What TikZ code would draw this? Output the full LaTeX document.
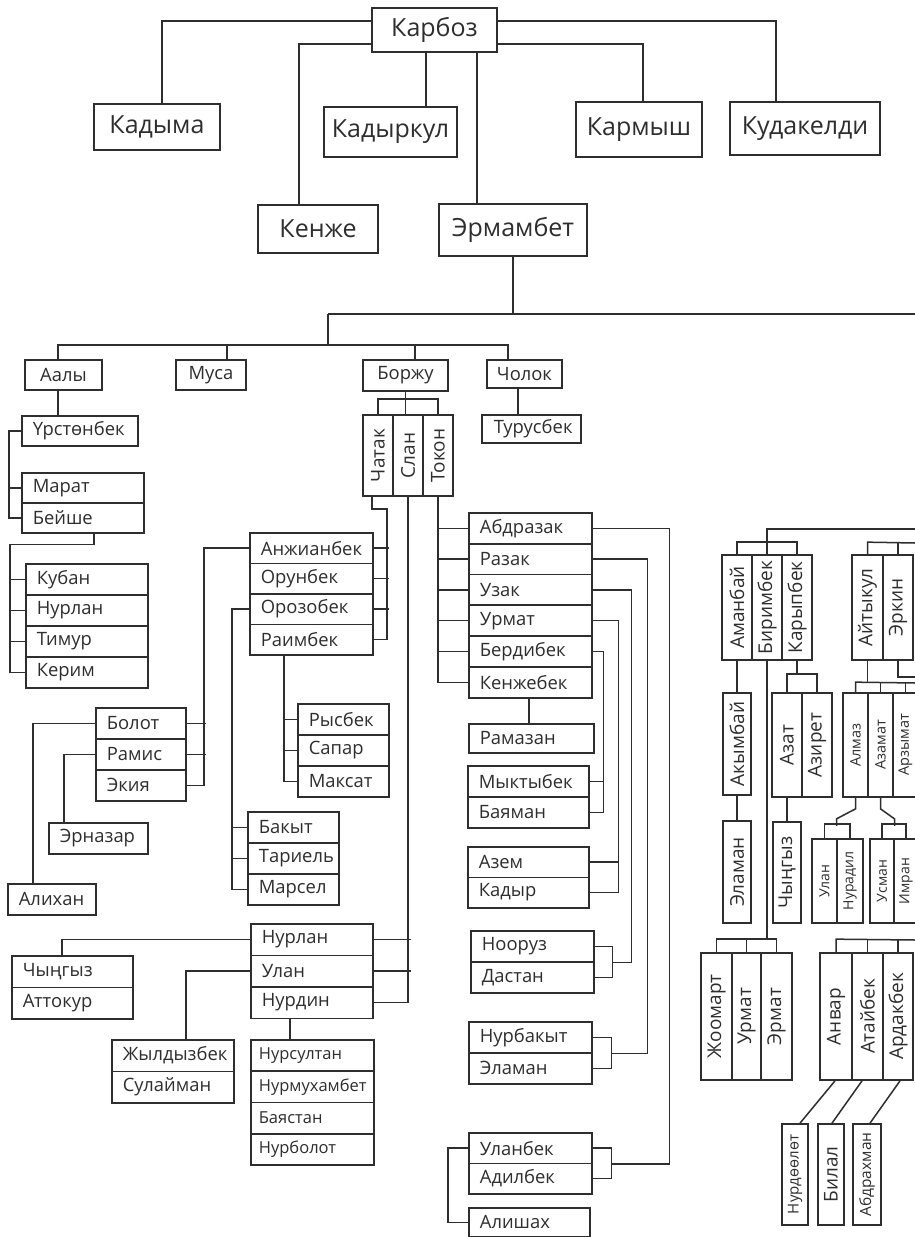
\documentclass[tikz,border=0pt]{standalone}
\usepackage{fontspec}
\setmainfont{Open Sans}
\usetikzlibrary{calc}
\colorlet{ink}{black!82}
\tikzset{
  box/.style={draw=ink, line width=1.7pt, text=ink, inner sep=0pt},
  big/.style={box, font=\fontsize{25}{30}\selectfont},
  tag/.style={box, font=\fontsize{18.4}{22}\selectfont},
  item/.style={box, anchor=north west, inner xsep=11pt, text width=#1, align=left, font=\fontsize{18.4}{22}\selectfont},
  vx/.style={box, rotate=90, font=\fontsize{19}{22}\selectfont},
  wire/.style={draw=ink, line width=1.5pt},
}

\begin{document}
\begin{tikzpicture}[x=1pt, y=-1pt]
\fill[white] (0,0) rectangle (915,1237);
\useasboundingbox (0,0) rectangle (915,1237);

% Карбоз and sons
\node[big, minimum width=125pt, minimum height=44pt] (karboz) at (434.5,30) {Карбоз};
\node[big, minimum width=126pt, minimum height=46pt] (kadyma) at (157,127) {Кадыма};
\node[big, minimum width=133pt, minimum height=50pt] (kadyrkul) at (390.5,132) {Кадыркул};
\node[big, minimum width=126pt, minimum height=55pt] (karmysh) at (639,129.5) {Кармыш};
\node[big, minimum width=150pt, minimum height=53pt] (kudakeldi) at (805,128.5) {Кудакелди};
\node[big, minimum width=120pt, minimum height=48pt] (kenzhe) at (318,229) {Кенже};
\node[big, minimum width=148pt, minimum height=52pt] (ermambet) at (513,230) {Эрмамбет};
\draw[wire] ([yshift=9pt]karboz.west) -| ([xshift=5pt]kadyma.north);
\draw[wire] ([yshift=9pt]karboz.east) -| ([xshift=-29pt]kudakeldi.north);
\draw[wire] ([yshift=-14pt]karboz.west) -| ([xshift=-19pt]kenzhe.north);
\draw[wire] ([yshift=-14pt]karboz.east) -| ([xshift=4pt]karmysh.north);
\coordinate (kk) at ([xshift=35.5pt]kadyrkul.north);
\draw[wire] (kk) -- (kk |- karboz.south);
\coordinate (ke) at ([xshift=-36pt]ermambet.north);
\draw[wire] (ke) -- (ke |- karboz.south);

\coordinate (e1) at (328,314);
\coordinate (e2) at (915,314);
\coordinate (k1) at (328,345);
\draw[wire] (ermambet.south) -- (ermambet.south |- e1);
\draw[wire] (e1) -- (e2);
\draw[wire] (e1) -- (k1);

% Эрмамбет's sons
\node[tag, minimum width=77pt, minimum height=30pt] (aaly) at (63.5,375) {Аалы};
\node[tag, minimum width=70pt, minimum height=30pt] (musa) at (211,375) {Муса};
\node[tag, minimum width=85pt, minimum height=31pt] (borzhu) at (405.5,375.5) {Боржу};
\node[tag, minimum width=75pt, minimum height=28pt] (cholok) at (524.5,374) {Чолок};
\coordinate (a1) at ([xshift=-5.5pt]aaly.north);
\coordinate (c1) at ([xshift=-16.5pt]cholok.north);
\draw[wire] (a1) |- (k1) -| (c1);
\coordinate (m1) at ([xshift=16pt]musa.north);
\draw[wire] (m1) -- (m1 |- k1);
\coordinate (b1) at ([xshift=9.5pt]borzhu.north);
\draw[wire] (b1) -- (b1 |- k1);

\node[item=75pt, inner xsep=12pt, minimum height=28pt] (turus) at (481,414) {Турусбек};
\coordinate (c2) at ([xshift=-6.5pt]cholok.south);
\draw[wire] (c2) -- (c2 |- turus.north);

\foreach \n/\t/\x in {chatak/Чатак/378, slan/Слан/408, tokon/Токон/438}
  \node[vx, minimum width=81pt, minimum height=30pt] (\n) at (\x,455.5) {\t};
\draw[wire] (borzhu.south) -- (borzhu.south |- slan.east);
\draw[wire] (chatak.east) -- ++(0,-15) -| (tokon.east);

% Аалы
\node[item=94pt, minimum height=30pt] (urst) at (21,415) {Үрстөнбек};
\coordinate (a2) at ([xshift=-5.5pt]aaly.south);
\draw[wire] (a2) -- (a2 |- urst.north);
\foreach \n/\t [count=\i from 0] in {marat/Марат, beyshe/Бейше}
  \node[item=100pt, minimum height=30pt] (\n) at (21,472+30*\i) {\t};
\draw[wire] (urst.west) -- ++(-12,0) |- (beyshe.west);
\draw[wire] (marat.west) -- ++(-12,0);
\foreach \n/\t [count=\i from 0] in {kuban/Кубан, nurlanA/Нурлан, timur/Тимур, kerim/Керим}
  \node[item=100pt, minimum height=31pt] (\n) at (25,563+31*\i) {\t};
\draw[wire] ([xshift=11pt]beyshe.south) -- ++(0,11) -- ++(-84,0) |- (kerim.west);
\foreach \n in {kuban,nurlanA,timur} \draw[wire] (\n.west) -- ++(-16,0);

% Чатак
\foreach \n/\t [count=\i from 0] in {anzh/Анжианбек, orun/Орунбек, oroz/Орозобек, raim/Раимбек}
  \node[item=101pt, minimum height=30.5pt] (\n) at (249,532+30.5*\i) {\t};
\draw[wire] ([xshift=-6pt]chatak.west) -- ++(0,12) -- ++(15,0) |- (raim.east);
\foreach \n in {anzh,orun,oroz} \draw[wire] (\n.east) -- ++(15,0);

\foreach \n/\t [count=\i from 0] in {bolot/Болот, ramis/Рамис, ekiya/Экия}
  \node[item=68pt, minimum height=31pt] (\n) at (95,707+31*\i) {\t};
\draw[wire] (anzh.west) -- ++(-45,0) |- (ekiya.east);
\foreach \n in {bolot,ramis} \draw[wire] (\n.east) -- ++(19,0);
\node[item=66pt, minimum height=31pt] (alikhan) at (7,883) {Алихан};
\node[item=77pt, minimum height=31pt] (ernazar) at (48,822) {Эрназар};
\draw[wire] (bolot.west) -| ([xshift=-19pt]alikhan.north);
\draw[wire] (ramis.west) -| ([xshift=-34.5pt]ernazar.north);

\foreach \n/\t [count=\i from 0] in {bakyt/Бакыт, tariel/Тариель, marsel/Марсел}
  \node[item=69pt, minimum height=31pt] (\n) at (247,811+31*\i) {\t};
\draw[wire] (oroz.west) -- ++(-17,0) |- (marsel.west);
\foreach \n in {bakyt,tariel} \draw[wire] (\n.west) -- ++(-15,0);

\foreach \n/\t [count=\i from 0] in {rysbek/Рысбек, sapar/Сапар, maksat/Максат}
  \node[item=69pt, minimum height=31pt] (\n) at (297,703+31*\i) {\t};
\draw[wire] ([xshift=-27.5pt]raim.south) |- (maksat.west);
\foreach \n in {rysbek,sapar} \draw[wire] (\n.west) -- ++(-14,0);

% Слан
\foreach \n/\t [count=\i from 0] in {nurlanB/Нурлан, ulanA/Улан, nurdin/Нурдин}
  \node[item=100pt, minimum height=31.5pt] (\n) at (250,923+31.5*\i) {\t};
\draw[wire] (slan.west) |- (nurdin.east);
\foreach \n in {nurlanB,ulanA} \draw[wire] (\n.east) -- ++(37,0);
\foreach \n/\t [count=\i from 0] in {chyngyzA/Чыңгыз, attokur/Аттокур}
  \node[item=99pt, minimum height=31.5pt] (\n) at (11,955+31.5*\i) {\t};
\draw[wire] (nurlanB.west) -| ([xshift=-10.5pt]chyngyzA.north);
\foreach \n/\t [count=\i from 0] in {zhyldyz/Жылдызбек, sulayman/Сулайман}
  \node[item=100pt, minimum height=31.5pt] (\n) at (111,1039+31.5*\i) {\t};
\draw[wire] (ulanA.west) -| ([xshift=13pt]zhyldyz.north);
\foreach \n/\t [count=\i from 0] in {nursultan/Нурсултан, nurmukh/Нурмухамбет, bayastan/Баястан, nurbolot/Нурболот}
  \node[item=107pt, inner xsep=8pt, minimum height=31.3pt, font=\fontsize{16.5}{20}\selectfont] (\n) at (250,1039+31.3*\i) {\t};
\coordinate (n1) at ([xshift=-22pt]nurdin.south);
\draw[wire] (n1) -- (n1 |- nursultan.north);

% Токон
\foreach \n/\t [count=\i from 0] in {abdr/Абдразак, razak/Разак, uzak/Узак, urmatA/Урмат, berdi/Бердибек, kenzheb/Кенжебек}
  \node[item=101pt, minimum height=30.8pt] (\n) at (468,512+30.8*\i) {\t};
\draw[wire] (tokon.west) |- (kenzheb.west);
\foreach \n in {abdr,razak,uzak,urmatA,berdi} \draw[wire] (\n.west) -- ++(-30,0);

\node[item=103pt, minimum height=29pt] (ramazan) at (468,723) {Рамазан};
\coordinate (k2) at ([xshift=-1.5pt]kenzheb.south);
\draw[wire] (k2) -- (k2 |- ramazan.north);

\foreach \n/\t [count=\i from 0] in {myktybek/Мыктыбек, bayaman/Баяман}
  \node[item=99pt, minimum height=31pt] (\n) at (467,765+31*\i) {\t};
\draw[wire] (berdi.east) -- ++(11,0) |- (bayaman.east);
\draw[wire] (myktybek.east) -- ++(14,0);

\foreach \n/\t [count=\i from 0] in {azem/Азем, kadyr/Кадыр}
  \node[item=99pt, minimum height=30.5pt] (\n) at (467,846+30.5*\i) {\t};
\draw[wire] (urmatA.east) -- ++(26,0) |- (kadyr.east);
\draw[wire] (azem.east) -- ++(29,0);

\foreach \n/\t [count=\i from 0] in {nooruz/Нооруз, dastan/Дастан}
  \node[item=101pt, minimum height=31pt] (\n) at (470,930+31*\i) {\t};
\draw[wire] (nooruz.east) -- ++(18,0) |- (dastan.east);
\draw[wire] (uzak.east) -- ++(39,0) |- ([xshift=18pt]nooruz.south east);

\foreach \n/\t [count=\i from 0] in {nurbakyt/Нурбакыт, elamanA/Эламан}
  \node[item=101pt, minimum height=31pt] (\n) at (468,1021+31*\i) {\t};
\draw[wire] (nurbakyt.east) -- ++(19,0) |- (elamanA.east);
\draw[wire] (razak.east) -- ++(55,0) |- ([xshift=19pt]nurbakyt.south east);

\foreach \n/\t [count=\i from 0] in {ulanbek/Уланбек, adilbek/Адилбек}
  \node[item=101pt, minimum height=30.5pt] (\n) at (468,1132+30.5*\i) {\t};
\draw[wire] (ulanbek.east) -- ++(19,0) |- (adilbek.east);
\draw[wire] (abdr.east) -- ++(77,0) |- ([xshift=19pt]ulanbek.south east);
\node[item=99pt, minimum height=29pt] (alishakh) at (468,1207) {Алишах};
\draw[wire] (ulanbek.west) -- ++(-20,0) |- (alishakh.west);

% right part, cut by the page edge
\coordinate (r1) at (915,529);
\foreach \n/\t/\x in {amanbay/Аманбай/737, birimbek/Биримбек/767, karypbek/Карыпбек/797}
  \node[vx, minimum width=105pt, minimum height=30pt] (\n) at (\x,607.5) {\t};
\draw[wire] (r1) -| (birimbek.east);
\draw[wire] (amanbay.east) -- ++(0,-12) -| (karypbek.east);

\node[vx, minimum width=105pt, minimum height=31pt] (aytykul) at (867.5,607.5) {Айтыкул};
\node[vx, minimum width=105pt, minimum height=30pt] (erkin) at (898,607.5) {Эркин};
\coordinate (r2) at (915,543);
\draw[wire] (aytykul.east) -- ++(0,-12) -- (r2);
\draw[wire] (erkin.east) -- ++(0,-12);

\node[vx, minimum width=102pt, minimum height=28pt] (akymbay) at (737,744) {Акымбай};
\node[vx, minimum width=102pt, minimum height=28pt] (elamanB) at (737,872) {Эламан};
\draw[wire] (amanbay.west) -- (akymbay.east);
\draw[wire] (akymbay.west) -- (elamanB.east);

\foreach \n/\t/\x/\w in {zhoomart/Жоомарт/716.5/31pt, urmatB/Урмат/746.5/29pt, ermat/Эрмат/776.5/31pt}
  \node[vx, minimum width=127pt, minimum height=\w] (\n) at (\x,1016.5) {\t};
\draw[wire] (zhoomart.east) -- ++(0,-13) -| (ermat.east);
\draw[wire] (urmatB.east) -- ++(0,-13);
\coordinate (zb) at ([yshift=13pt]urmatB.east);
\draw[wire] (birimbek.west) -- (birimbek.west |- zb);

\foreach \n/\t/\x in {azat/Азат/787, aziret/Азирет/817}
  \node[vx, minimum width=104pt, minimum height=30pt] (\n) at (\x,745) {\t};
\draw[wire] (azat.east) -- ++(0,-18) -| (aziret.east);
\coordinate (zc) at ([yshift=18pt]azat.east);
\draw[wire] (karypbek.west) -- (karypbek.west |- zc);
\node[vx, minimum width=101pt, minimum height=28pt] (chyngyzB) at (787,872.5) {Чыңгыз};
\draw[wire] (azat.west) -- (chyngyzB.east);

\foreach \n/\t/\x in {almaz/Алмаз/855.5, azamat/Азамат/880.5, arzymat/Арзымат/905.5}
  \node[vx, minimum width=104pt, minimum height=25pt, font=\fontsize{14.5}{17}\selectfont] (\n) at (\x,745) {\t};
\coordinate (r3) at (915,683);
\coordinate (r4) at (915,677);
\draw[wire] (almaz.east) -- ++(0,-10) -- (r3);
\draw[wire] (azamat.east) -- ++(0,-10);
\draw[wire] (arzymat.east) -- ++(0,-10);
\draw[wire] (aytykul.west) -- (aytykul.west |- r3);
\draw[wire] (erkin.west) |- (r4);

\foreach \n/\t/\x/\w in {ulanB/Улан/824.5/25pt, nuradil/Нурадил/850/26pt, usman/Усман/882/24pt, imran/Имран/906/24pt}
  \node[vx, minimum width=84pt, minimum height=\w, font=\fontsize{14}{16}\selectfont] (\n) at (\x,881) {\t};
\draw[wire] (ulanB.east) -- ++(0,-14) -| (nuradil.east);
\draw[wire] (usman.east) -- ++(0,-14) -| (imran.east);
\draw[wire] (almaz.west) -- ++(0,11) -- ++(-19,10) -- ++(0,7);
\draw[wire] (azamat.west) -- ++(0,11) -- ++(14,10) -- ++(0,7);

\foreach \n/\t/\x/\w in {anvar/Анвар/836/32pt, atay/Атайбек/867.5/31pt, ardak/Ардакбек/898/30pt}
  \node[vx, minimum width=127pt, minimum height=\w] (\n) at (\x,1016.5) {\t};
\coordinate (r5) at (915,940);
\draw[wire] (anvar.east) -- ++(0,-13) -- (r5);
\draw[wire] (atay.east) -- ++(0,-13);
\draw[wire] (ardak.east) -- ++(0,-13);

\node[vx, minimum width=101pt, minimum height=26pt, font=\fontsize{15}{17}\selectfont] (nurdoolot) at (795,1174.5) {Нурдөөлөт};
\node[vx, minimum width=101pt, minimum height=26pt] (bilal) at (831,1174.5) {Билал};
\node[vx, minimum width=101pt, minimum height=28pt, font=\fontsize{15.5}{17}\selectfont] (abdrakh) at (867,1174.5) {Абдрахман};
\draw[wire] ([xshift=-1pt]anvar.west) -- ([xshift=5pt]nurdoolot.east);
\draw[wire] ([xshift=-5.5pt]atay.west) -- ([xshift=1pt]bilal.east);
\draw[wire] ([xshift=2pt]ardak.west) -- ([xshift=3pt]abdrakh.east);
\end{tikzpicture}
\end{document}
